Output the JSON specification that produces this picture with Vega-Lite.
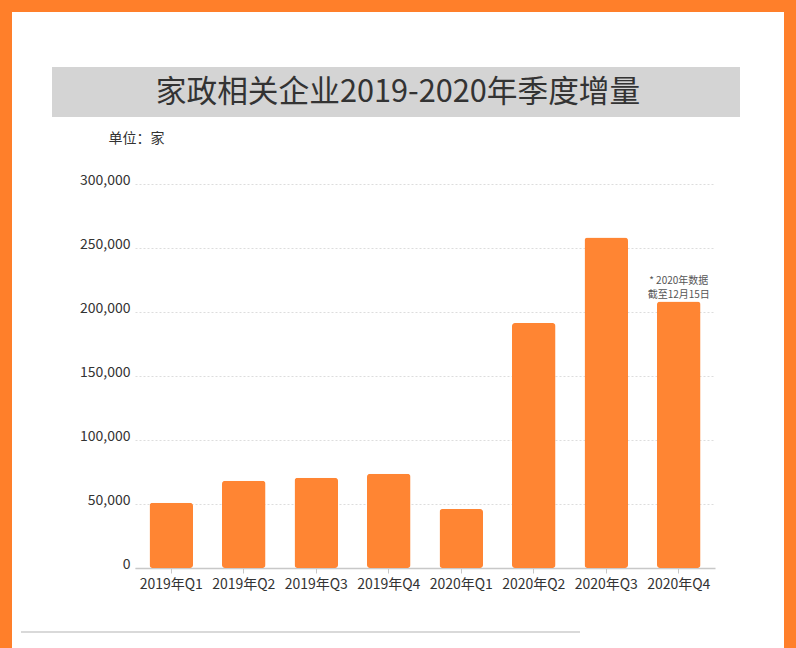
{
  "$schema": "https://vega.github.io/schema/vega-lite/v6.json",
  "autosize": "none",
  "width": 772,
  "height": 636,
  "padding": {"left": 12, "top": 12, "right": 12, "bottom": 0},
  "background": "#FF7F2A",
  "title": {
    "text": "家政相关企业2019-2020年季度增量",
    "font": "Noto Sans CJK SC",
    "fontSize": 30.7,
    "fontWeight": "normal",
    "color": "#333333",
    "anchor": "middle",
    "frame": "group",
    "baseline": "middle",
    "offset": -112
  },
  "config": {
    "view": {"fill": "white", "stroke": null},
    "font": "Noto Sans CJK SC"
  },
  "layer": [
    {
      "data": {"values": [{}]},
      "mark": {"type": "rect", "color": "#d4d4d4"},
      "encoding": {
        "x": {"datum": 0, "type": "quantitative", "scale": {"domain": [0, 1], "range": [40, 728]}, "axis": null},
        "x2": {"datum": 1},
        "y": {"datum": 0, "type": "quantitative", "scale": {"domain": [0, 1], "range": [105, 55]}, "axis": null},
        "y2": {"datum": 1}
      }
    },
    {
      "data": {"values": [{}]},
      "mark": {"type": "rule", "color": "#cccccc", "strokeWidth": 1.5},
      "encoding": {
        "x": {"datum": 0, "type": "quantitative", "scale": {"domain": [0, 1], "range": [9, 568]}, "axis": null},
        "x2": {"datum": 1},
        "y": {"datum": 0, "type": "quantitative", "scale": {"domain": [0, 1], "range": [620, 619]}, "axis": null}
      }
    },
    {
      "data": {
        "values": [
          {"quarter": "2019年Q1", "count": 51000},
          {"quarter": "2019年Q2", "count": 68200},
          {"quarter": "2019年Q3", "count": 70500},
          {"quarter": "2019年Q4", "count": 73700},
          {"quarter": "2020年Q1", "count": 46100},
          {"quarter": "2020年Q2", "count": 191400},
          {"quarter": "2020年Q3", "count": 258300},
          {"quarter": "2020年Q4", "count": 208300, "note": ["* 2020年数据", "截至12月15日"]}
        ]
      },
      "encoding": {
        "x": {
          "field": "quarter",
          "type": "ordinal",
          "sort": null,
          "scale": {"range": [123, 703], "paddingInner": 0.4, "paddingOuter": 0.2},
          "axis": {
            "title": null,
            "labelAngle": 0,
            "labelFontSize": 14,
            "labelColor": "#333333",
            "labelPadding": 4,
            "domainColor": "#c8c8c8",
            "domainWidth": 1.5,
            "tickColor": "#c8c8c8",
            "tickSize": 5,
            "offset": -80,
            "grid": false
          }
        },
        "y": {
          "field": "count",
          "type": "quantitative",
          "scale": {"domain": [0, 300000], "range": [556, 172], "nice": false},
          "axis": {
            "title": "单位：家",
            "titleAngle": 0,
            "titleAlign": "left",
            "titleBaseline": "middle",
            "titleX": -26,
            "titleY": 126,
            "titleFontSize": 14,
            "titleFontWeight": "normal",
            "titleColor": "#333333",
            "values": [0, 50000, 100000, 150000, 200000, 250000, 300000],
            "format": ",d",
            "labelFontSize": 14,
            "labelColor": "#333333",
            "labelBaseline": "alphabetic",
            "labelPadding": 4,
            "domain": false,
            "ticks": false,
            "offset": -122,
            "grid": true,
            "gridColor": "#dddddd",
            "gridDash": [2, 2],
            "gridWidth": 1
          }
        }
      },
      "layer": [
        {"mark": {"type": "bar", "color": "#FF8533", "cornerRadius": 3}},
        {
          "transform": [{"filter": "isValid(datum.note)"}],
          "mark": {"type": "text", "baseline": "bottom", "dy": -15, "fontSize": 10, "color": "#555555", "lineHeight": 13.5},
          "encoding": {"text": {"field": "note"}}
        }
      ]
    }
  ],
  "resolve": {"scale": {"x": "independent", "y": "independent"}}
}
